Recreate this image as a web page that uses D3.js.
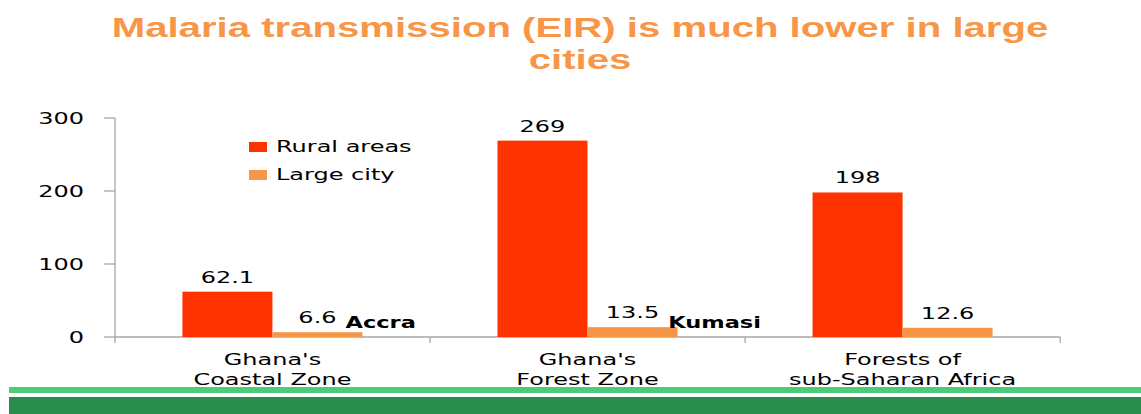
<!DOCTYPE html>
<html lang="en">

<head>
    <meta charset="utf-8">
    <script src='https://d3js.org/d3.v7.min.js'></script>
    <style>
        body { margin: 0; background: #fff; }
        svg { display: block; }
    </style>
</head>

<body>
</body>

<script>

    // chart data
    const titleLines = ["Malaria transmission (EIR) is much lower in large", "cities"];
    const categories = [["Ghana's", "Coastal Zone"], ["Ghana's", "Forest Zone"], ["Forests of", "sub-Saharan Africa"]];
    const seriesNames = ["Rural areas", "Large city"];
    const ruralValues = [62.1, 269, 198];
    const cityValues = [6.6, 13.5, 12.6];
    const cityNames = ["Accra", "Kumasi", ""];
    const yTicks = [0, 100, 200, 300];

    const width = 1141;
    const height = 414;
    const colors = ["#FF3300", "#F79646"];
    const stretch = 1.6;   // the picture's text is widened horizontally
    const fontSize = 15;

    const svg = d3.select("body")
                    .append("svg")
                    .attr("width", width)
                    .attr("height", height);

    // helper: text widened horizontally around its anchor point
    function wideText(parent, x, y, str, anchor, opts) {
        opts = opts || {};
        const g = parent.append("g")
                    .attr("transform", "translate(" + x + "," + y + ") scale(" + (opts.sx || stretch) + ",1)");
        const t = g.append("text")
                    .attr("text-anchor", anchor)
                    .style("font-family", opts.family || "'DejaVu Sans', Verdana, sans-serif")
                    .style("font-size", (opts.size || fontSize) + "px")
                    .style("font-weight", opts.weight || "normal")
                    .attr("fill", opts.fill || "#000")
                    .text(str);
        return t;
    }

    // title
    const t1 = svg.append("text")
                .style("font-family", "'Liberation Sans', Arial, sans-serif")
                .style("font-size", "28px")
                .style("font-weight", "bold")
                .text(titleLines[0]);
    const titleScale = 937 / t1.node().getComputedTextLength();
    t1.remove();
    titleLines.forEach(function(line, i) {
        wideText(svg, 580, 37 + i * 32, line, "middle", {
            sx: titleScale, size: 28, weight: "bold",
            family: "'Liberation Sans', Arial, sans-serif", fill: "#F79646"
        });
    });

    // scales
    const x0 = d3.scaleBand()
                    .domain(d3.range(categories.length))
                    .range([115, 1060])
                    .paddingInner(0.4286)
                    .paddingOuter(0.214);
    const x1 = d3.scaleBand()
                    .domain([0, 1])
                    .range([0, x0.bandwidth()]);
    const y = d3.scaleLinear()
                    .domain([0, 300])
                    .range([337, 118]);

    const axisColor = "#A6A6A6";

    // y axis
    svg.append("line")
        .attr("x1", 115).attr("x2", 115)
        .attr("y1", y(300)).attr("y2", y(0))
        .attr("stroke", axisColor).attr("stroke-width", 1.3);
    yTicks.forEach(function(v) {
        svg.append("line")
            .attr("x1", 104).attr("x2", 115)
            .attr("y1", y(v)).attr("y2", y(v))
            .attr("stroke", axisColor).attr("stroke-width", 1.3);
        wideText(svg, 84, y(v) + 5.5, String(v), "end");
    });

    // x axis baseline with group separators
    svg.append("line")
        .attr("x1", 115).attr("x2", 1060)
        .attr("y1", y(0)).attr("y2", y(0))
        .attr("stroke", axisColor).attr("stroke-width", 1.3);
    const step = x0.step();
    d3.range(categories.length + 1).forEach(function(i) {
        const xx = 115 + i * step;
        svg.append("line")
            .attr("x1", xx).attr("x2", xx)
            .attr("y1", y(0)).attr("y2", y(0) + 6)
            .attr("stroke", axisColor).attr("stroke-width", 1.3);
    });

    // bars
    const groups = svg.selectAll("g.grp")
                    .data(categories)
                    .enter()
                    .append("g")
                    .attr("class", "grp")
                    .attr("transform", function (d, i) {
                        return "translate(" + x0(i) + ",0)";
                    });

    groups.each(function(d, i) {
        const g = d3.select(this);
        const vals = [ruralValues[i], cityValues[i]];
        vals.forEach(function(v, s) {
            g.append("rect")
                .attr("x", x1(s))
                .attr("y", y(v))
                .attr("width", x1.bandwidth())
                .attr("height", y(0) - y(v))
                .attr("fill", colors[s]);
            const lbl = wideText(g, x1(s) + x1.bandwidth() / 2, y(v) - 9, String(v), "middle");
            if (s === 1 && cityNames[i]) {
                const half = lbl.node().getComputedTextLength() * stretch / 2;
                wideText(g, x1(s) + x1.bandwidth() / 2 + half + 9, y(0) - 9, cityNames[i], "start",
                    { weight: "bold", sx: 1.5 });
            }
        });
        // category label
        d.forEach(function(line, j) {
            wideText(g, x0.bandwidth() / 2, 365 + j * 20, line, "middle");
        });
    });

    // legend
    seriesNames.forEach(function(name, i) {
        svg.append("rect")
            .attr("x", 249)
            .attr("y", 142 + i * 28)
            .attr("width", 18)
            .attr("height", 10)
            .attr("fill", colors[i]);
        wideText(svg, 276, 152 + i * 28, name, "start");
    });

    // green footer bands
    svg.append("rect")
        .attr("x", 9).attr("y", 387)
        .attr("width", width - 9).attr("height", 6)
        .attr("fill", "#4CCB7A");
    svg.append("rect")
        .attr("x", 9).attr("y", 397)
        .attr("width", width - 9).attr("height", 17)
        .attr("fill", "#288D4B");

</script>

</html>
